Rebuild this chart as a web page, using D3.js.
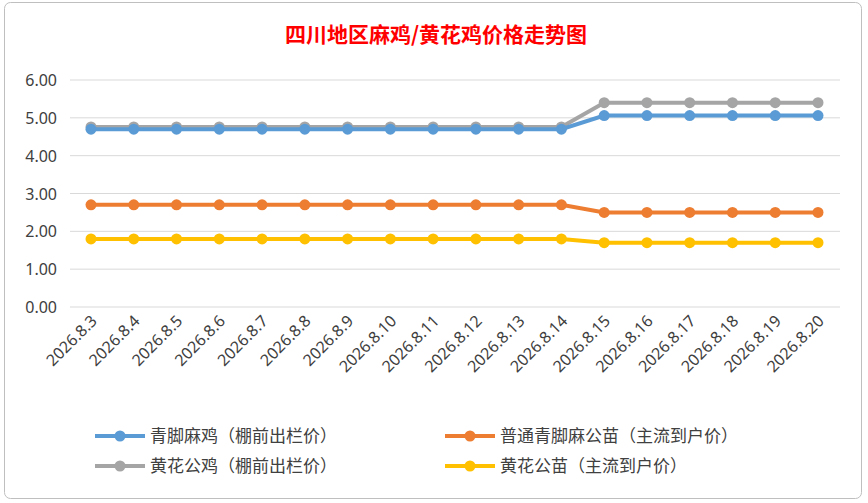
<!DOCTYPE html>
<html><head><meta charset="utf-8">
<script src="https://cdn.jsdelivr.net/npm/d3@7"></script>
<style>body{margin:0;background:#fff;}</style>
</head><body>
<script>
var dates = ['2026.8.3','2026.8.4','2026.8.5','2026.8.6','2026.8.7','2026.8.8','2026.8.9','2026.8.10','2026.8.11','2026.8.12','2026.8.13','2026.8.14','2026.8.15','2026.8.16','2026.8.17','2026.8.18','2026.8.19','2026.8.20'];
var qingjiao = [4.70,4.70,4.70,4.70,4.70,4.70,4.70,4.70,4.70,4.70,4.70,4.70,5.06,5.06,5.06,5.06,5.06,5.06];
var putong = [2.70,2.70,2.70,2.70,2.70,2.70,2.70,2.70,2.70,2.70,2.70,2.70,2.50,2.50,2.50,2.50,2.50,2.50];
var huanghuaGongji = [4.76,4.76,4.76,4.76,4.76,4.76,4.76,4.76,4.76,4.76,4.76,4.76,5.40,5.40,5.40,5.40,5.40,5.40];
var huanghuaGongmiao = [1.80,1.80,1.80,1.80,1.80,1.80,1.80,1.80,1.80,1.80,1.80,1.80,1.70,1.70,1.70,1.70,1.70,1.70];
var yTicks = [0,1,2,3,4,5,6];

var series = [
  { name: '青脚麻鸡（棚前出栏价）', values: qingjiao, color: '#5b9bd5' },
  { name: '普通青脚麻公苗（主流到户价）', values: putong, color: '#ed7d31' },
  { name: '黄花公鸡（棚前出栏价）', values: huanghuaGongji, color: '#a5a5a5' },
  { name: '黄花公苗（主流到户价）', values: huanghuaGongmiao, color: '#ffc000' }
];
// draw order: gray under blue
var drawOrder = [series[2], series[0], series[1], series[3]];

var svg = d3.select('body').append('svg').attr('width', 868).attr('height', 503);
svg.append('rect').attr('x', 4.5).attr('y', 2.5).attr('width', 857).attr('height', 496)
  .attr('rx', 6).attr('fill', '#fff').attr('stroke', '#bfbfbf');

svg.append('text').attr('x', 436).attr('y', 42).attr('text-anchor', 'middle')
  .attr('fill', '#ff0000').attr('font-size', 21).attr('font-weight', 'bold')
  .attr('font-family', 'Noto Sans CJK SC').text('四川地区麻鸡/黄花鸡价格走势图');

var x = d3.scalePoint().domain(dates).range([91, 818]);
var y = d3.scaleLinear().domain([0, 6]).range([307, 80]);

svg.append('g').selectAll('line').data(yTicks).enter().append('line')
  .attr('x1', 70).attr('x2', 840).attr('y1', d => y(d)).attr('y2', d => y(d))
  .attr('stroke', '#d9d9d9');

svg.append('g').selectAll('text').data(yTicks).enter().append('text')
  .attr('x', 57).attr('y', d => y(d) + 6).attr('text-anchor', 'end')
  .attr('font-family', 'Noto Sans').attr('font-size', 16).attr('fill', '#404040')
  .text(d => d.toFixed(2));

svg.append('g').selectAll('text').data(dates).enter().append('text')
  .attr('transform', d => 'translate(' + (x(d) + 7) + ',322) rotate(-45)')
  .attr('text-anchor', 'end').attr('font-family', 'Noto Sans').attr('font-size', 16)
  .attr('fill', '#404040').text(d => d);

var line = d3.line().x((d, i) => x(dates[i])).y(d => y(d));
drawOrder.forEach(function (s) {
  var g = svg.append('g');
  g.append('path').attr('d', line(s.values)).attr('fill', 'none')
    .attr('stroke', s.color).attr('stroke-width', 4);
  g.selectAll('circle').data(s.values).enter().append('circle')
    .attr('cx', (d, i) => x(dates[i])).attr('cy', d => y(d)).attr('r', 5.5)
    .attr('fill', s.color);
});

var legendPos = [[95, 436], [445, 436], [95, 466], [445, 466]];
series.forEach(function (s, i) {
  var g = svg.append('g').attr('transform', 'translate(' + legendPos[i][0] + ',' + legendPos[i][1] + ')');
  g.append('line').attr('x1', 0).attr('x2', 50).attr('stroke', s.color).attr('stroke-width', 4);
  g.append('circle').attr('cx', 25).attr('r', 5.5).attr('fill', s.color);
  g.append('text').attr('x', 55).attr('y', 6).attr('font-family', 'Noto Sans CJK SC')
    .attr('font-size', 17).attr('fill', '#404040').text(s.name);
});
</script>
</body></html>
